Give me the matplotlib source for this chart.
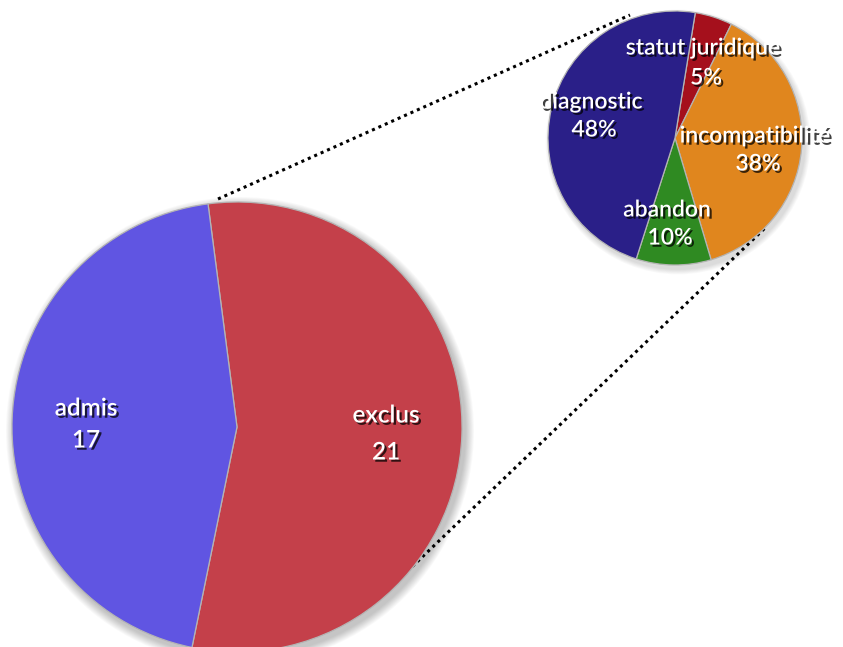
import matplotlib
matplotlib.use("Agg")
import matplotlib.pyplot as plt
import matplotlib.patheffects as pe
from matplotlib.patches import Circle
import numpy as np

# ---- data ----
main_labels = ["exclus", "admis"]
main_values = [21, 17]
main_colors = ["#c4404a", "#6055e2"]

sub_labels = ["statut juridique", "incompatibilité", "abandon", "diagnostic"]
sub_values = [1, 8, 2, 10]
sub_colors = ["#a5101c", "#e0861e", "#2f8a22", "#2a1f88"]

W, H = 843, 647
fig = plt.figure(figsize=(W / 100, H / 100), dpi=100)
ax = fig.add_axes([0, 0, 1, 1])

big_c = (237, H - 427)
big_r = 225
small_c = (675, H - 138)
small_r = 127

# soft shadows
for c, r, n in [(big_c, big_r, 10), (small_c, small_r, 6)]:
    for i in range(n, 0, -1):
        ax.add_patch(Circle((c[0] + 3, c[1] - 4), r + i * 0.9, color="black",
                            alpha=0.025, lw=0, zorder=0))

# connector dotted lines
ax.plot([218, 630], [H - 199, H - 15], color="black", ls=(0, (1, 1.3)), lw=2.2, zorder=1)
ax.plot([392, 765], [H - 586, H - 228], color="black", ls=(0, (1, 1.3)), lw=2.2, zorder=1)

wp = dict(edgecolor="#b4b4b4", linewidth=0.9)
ax.pie(main_values, colors=main_colors, center=big_c, radius=big_r,
       startangle=97.4, counterclock=False, explode=[0.01, 0],
       wedgeprops=wp, frame=True)
ax.pie(sub_values, colors=sub_colors, center=small_c, radius=small_r,
       startangle=80.8, counterclock=False, wedgeprops=wp, frame=True)

shadow = [pe.withSimplePatchShadow(offset=(1.6, -1.6), shadow_rgbFace="black", alpha=0.75)]
font = dict(family=["Lato", "DejaVu Sans"], color="white", ha="center", va="center",
            path_effects=shadow, zorder=5, fontweight="semibold")

main_pos = {"exclus": (386, 415, 452), "admis": (86, 408, 440)}
for lab, v in zip(main_labels, main_values):
    x, y1, y2 = main_pos[lab]
    ax.text(x, H - y1, lab, fontsize=17.5, **font)
    ax.text(x, H - y2, str(v), fontsize=17.5, **font)

total = sum(sub_values)
sub_pos = {"statut juridique": (703, 48, 78), "incompatibilité": (755, 136, 164),
           "abandon": (667, 210, 238), "diagnostic": (591, 102, 130)}
for lab, v in zip(sub_labels, sub_values):
    x, y1, y2 = sub_pos[lab]
    ax.text(x, H - y1, lab, fontsize=16.5, **font)
    ax.text(x + 3, H - y2, f"{round(v / total * 100)}%", fontsize=16.5, **font)

ax.set_xlim(0, W)
ax.set_ylim(0, H)
ax.set_aspect("equal")
ax.axis("off")
fig.savefig("out.png", dpi=100)
